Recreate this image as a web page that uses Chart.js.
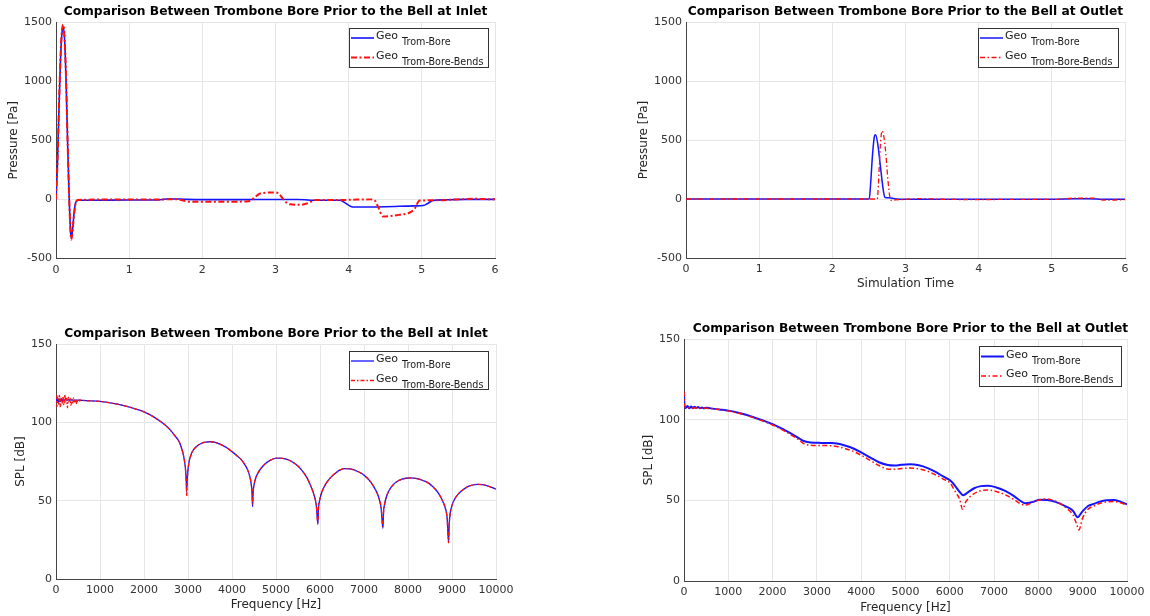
<!DOCTYPE html>
<html>
<head>
<meta charset="utf-8">
<script src="https://cdn.jsdelivr.net/npm/chart.js@4.4.1/dist/chart.umd.min.js"></script>
<style>
  html, body { margin: 0; padding: 0; background: #fff; }
  #wrap { position: relative; width: 1150px; height: 616px; overflow: hidden; background: #fff; }
  canvas { position: absolute; }
</style>
</head>
<body>
<div id="wrap">
  <canvas id="inletTime" width="575" height="300" style="left:0;top:0"></canvas>
  <canvas id="outletTime" width="575" height="300" style="left:575px;top:0"></canvas>
  <canvas id="inletSpl" width="575" height="316" style="left:0;top:300px"></canvas>
  <canvas id="outletSpl" width="575" height="316" style="left:575px;top:300px;filter:blur(0.5px)"></canvas>
</div>
<script>
// ---- Pressure at the inlet (time domain) ----
const inletTimeBore = [0,0.02,0.04,0.06,0.08,0.10,0.12,0.14,0.16,0.18,0.20,0.21,0.23,0.25,0.27,0.30,0.50,1.00,1.40,1.50,1.70,1.80,2.00,2.50,3.00,3.30,3.40,3.50,3.88,3.95,4.03,4.08,4.50,4.90,5.02,5.08,5.15,5.30,5.60,6.00];
const inletPressureBore = [0,300,750,1150,1400,1460,1320,950,450,20,-280,-330,-230,-100,-25,-8,-7,-5,-5,3,3,0,-2,-2,-1,-1,-3,-8,-8,-30,-60,-65,-62,-55,-52,-35,-10,-4,0,0];
const inletTimeBends = [0,0.02,0.04,0.06,0.08,0.10,0.12,0.14,0.16,0.18,0.20,0.21,0.23,0.25,0.27,0.30,0.60,1.00,1.50,1.65,1.75,1.85,2.20,2.60,2.66,2.72,2.80,3.00,3.05,3.12,3.20,3.35,3.45,3.55,3.90,4.05,4.30,4.35,4.40,4.47,4.70,4.82,4.90,4.97,5.20,5.50,5.70,5.85,6.00];
const inletPressureBends = [0,320,780,1180,1420,1478,1330,960,450,10,-290,-340,-240,-110,-30,-5,-2,0,0,2,-12,-20,-20,-18,-10,20,52,58,45,-10,-42,-45,-30,-5,-5,-3,0,-5,-60,-145,-130,-115,-80,-10,-8,0,5,3,0];

// ---- Pressure at the outlet (time domain) ----
const outletTimeBore = [0,1.0,2.0,2.505,2.52,2.55,2.575,2.59,2.62,2.66,2.70,2.72,2.78,2.85,3.0,3.5,4.0,4.5,5.0,5.3,5.5,5.7,6.0];
const outletPressureBore = [0,0,0,0,100,380,530,545,470,260,60,12,10,2,-3,-3,-2,-3,-2,2,3,-2,-3];
const outletTimeBends = [0,1.0,2.0,2.615,2.63,2.655,2.68,2.70,2.73,2.76,2.79,2.82,2.86,2.95,3.2,3.5,4.0,4.5,5.0,5.3,5.45,5.6,5.68,5.8,5.9,6.0];
const outletPressureBends = [0,0,0,0,130,440,578,545,390,160,5,-15,-8,-5,3,-2,-5,-3,-3,7,8,6,-8,-10,-8,-5];

// ---- SPL spectrum at the inlet ----
const inletFreqBore = [0,20,40,60,80,100,120,140,160,180,200,240,300,400,
  600,1000,1200,1500,1800,2000,2200,2400,2500,2600,2700,2800,2870,2910,2940,2958,2970,
  2985,3000,3030,3070,3120,3200,3300,3400,3500,3600,3750,3900,4000,4100,4200,4280,4350,4400,4435,4455,4467,
  4480,4500,4540,4600,4700,4800,4900,5020,5150,5300,5450,5570,5685,5761,5837,5890,5920,5951,
  5965,5990,6030,6080,6150,6250,6370,6460,6560,6680,6800,6950,7060,7150,7230,7300,7350,7390,7430,
  7445,7470,7510,7570,7650,7750,7850,7950,8050,8180,8300,8450,8560,8660,8740,8800,8850,8890,8922,
  8937,8960,9000,9060,9150,9250,9350,9460,9580,9700,9820,9920,10000];
const inletSplBore = [117,113,115.5,112.8,115,113.2,115.2,113.5,114.6,113.8,114.4,114.2,114.3,114.2,
  114,113.4,112.6,111,108.6,106.7,103.8,100,97.8,95,91.5,87.6,82,77,71,64,55.5,
  65,70,75.5,79.5,82.3,84.8,86.5,87.4,87.6,87.3,85.8,83.5,81.3,79,76.5,73.5,70,66,61,55,46.2,
  55,60,64.5,68.2,72,74.6,76.2,77.2,77,75.8,73.2,70,65.5,61.3,56,51,46,34.9,
  45,50,54.5,58,61.5,65,68,69.6,70.5,70.3,69.3,67.3,64.8,62,58.5,54.7,50.5,45,32.3,
  43,48,52.5,56.5,59.8,62.2,63.6,64.3,64.5,64.2,63.3,61.5,59,56,52.5,49,45,39,23.3,
  35,42,47,51,54.5,57,58.8,59.9,60.4,60.2,59.3,58.3,57.3];
const inletFreqBends = [0,20,40,60,80,100,120,140,160,180,200,220,240,260,280,300,320,340,360,380,400,420,440,460,480,500,520,540,560,
  600,1000,1200,1500,1800,2000,2200,2400,2500,2600,2700,2800,2870,2910,2940,2958,2970,
  2985,3000,3030,3070,3120,3200,3300,3400,3500,3600,3750,3900,4000,4100,4200,4280,4350,4400,4435,4455,4467,
  4480,4500,4540,4600,4700,4800,4900,5020,5150,5300,5450,5570,5685,5761,5837,5890,5920,5951,
  5965,5990,6030,6080,6150,6250,6370,6460,6560,6680,6800,6950,7060,7150,7230,7300,7350,7390,7430,
  7445,7470,7510,7570,7650,7750,7850,7950,8050,8180,8300,8450,8560,8660,8740,8800,8850,8890,8922,
  8937,8960,9000,9060,9150,9250,9350,9460,9580,9700,9820,9920,10000];
const inletSplBends = [117.5,110,116.8,111.5,117.2,109.6,115.8,112,116.6,111,117.8,113,115.5,109.3,116,112.5,115.2,110.8,114.8,112.2,115.6,113,114.6,111.6,114.8,113.2,114.6,113.6,114.3,
  114,113.4,112.6,111,108.6,106.7,103.8,100,97.8,95,91.5,87.6,82,77,71,63.5,52.8,
  64,69.8,75.5,79.5,82.3,84.8,86.5,87.4,87.6,87.3,85.8,83.5,81.3,79,76.5,73.5,70,66,61,55.5,47.8,
  55.5,60,64.5,68.2,72,74.6,76.2,77.2,77,75.8,73.2,70,65.5,61.3,56,51,46.5,35.8,
  45.5,50,54.5,58,61.5,65,68,69.6,70.5,70.3,69.3,67.3,64.8,62,58.5,54.7,50.5,45.5,33.5,
  43,48,52.5,56.5,59.8,62.2,63.6,64.3,64.5,64.2,63.3,61.5,59,56,52.5,49,45,38.5,23,
  35,42,47,51,54.5,57,58.8,59.9,60.4,60.2,59.3,58.3,57.3];

// ---- SPL spectrum at the outlet ----
const outletFreqBore = [0,10,40,80,120,160,200,240,280,320,360,400,450,500,600,800,1000,1200,1400,1600,1800,2000,2200,2400,2600,2700,2850,3100,3300,3450,3650,3850,4000,4200,4400,4600,4750,4900,5100,5300,5500,5700,5850,6005,6120,6220,6305,6400,6550,6700,6869,7050,7250,7450,7600,7698,7850,8036,8200,8400,8639,8780,8886,8990,9120,9250,9391,9540,9692,9850,10000];
const outletSplBore = [116,108.5,107.2,108.4,107,108.2,107.1,108,107.2,107.8,107.1,107.6,107.1,107.4,107,106.3,105.6,104.5,103,101.2,99.3,97.2,94.6,91.6,88.4,86.8,85.9,85.6,85.5,85.2,83.8,81.8,79.7,76.6,73.6,71.9,71.6,72,72.3,71.7,70,67.3,64.8,62.4,59,55.3,53.2,54.8,57.5,58.8,59.1,58,55.8,52.6,49.6,48.2,48.8,50.4,50.2,48.9,46,43.5,39.5,43,46.5,47.8,49.2,50,50.2,49.2,47.5];
const outletFreqBends = [0,8,30,200,500,1000,1500,2000,2200,2400,2600,2693,2850,3100,3300,3447,3650,3850,4011,4200,4400,4612,4750,4876,5100,5300,5500,5700,5850,6005,6120,6220,6290,6360,6480,6650,6869,7050,7250,7450,7600,7698,7850,8036,8200,8262,8450,8639,8780,8860,8916,8990,9120,9250,9391,9540,9692,9850,10000];
const outletSplBends = [117.5,111,107.6,107.3,107.1,105.4,101.9,96.7,94,90.8,87.3,85.3,84.2,84,83.9,83.4,82,80,77.8,74.8,71.6,69.3,69.2,69.6,70,69.5,68,65.5,63.2,60.8,55.5,50.8,44.4,49,52.8,55.5,56.4,55.5,53.4,50.5,47.8,47,48.5,50.4,50.9,50.6,48.6,45,41,35.5,31.6,38.5,44.5,46.5,48.2,49,49.2,48.5,47];

// ---- tick values ----
const timeTicks = [0,1,2,3,4,5,6];
const pressureTicks = [-500,0,500,1000,1500];
const freqTicks = [0,1000,2000,3000,4000,5000,6000,7000,8000,9000,10000];
const splTicks = [0,50,100,150];

const FONT = '"DejaVu Sans", "Liberation Sans", sans-serif';
const BLUE = 'rgb(20,20,255)';
const RED = 'rgb(255,15,15)';

function pairs(xs, ys) { return xs.map((x, i) => ({ x: x, y: ys[i] })); }

// Draws the panel title, axis titles and the boxed legend with subscripted labels.
const panelDecor = {
  id: 'panelDecor',
  afterDraw(chart, args, o) {
    const ctx = chart.ctx, a = chart.chartArea;
    ctx.save();
    ctx.textAlign = 'center';
    ctx.textBaseline = 'middle';
    ctx.fillStyle = '#000';
    ctx.font = 'bold 12.25px ' + FONT;
    ctx.fillText(o.title, (a.left + a.right) / 2 + (o.titleDx || 0), a.top + o.titleDy);

    ctx.fillStyle = '#262626';
    ctx.font = '12px ' + FONT;
    ctx.save();
    ctx.translate(a.left + o.yTitleDx, (a.top + a.bottom) / 2);
    ctx.rotate(-Math.PI / 2);
    ctx.fillText(o.yTitle, 0, 0);
    ctx.restore();
    if (o.xTitle) ctx.fillText(o.xTitle, (a.left + a.right) / 2, a.bottom + o.xTitleDy);

    const L = o.legend;
    const bx = Math.round(a.right - L.right - L.w), by = Math.round(a.top + L.top);
    ctx.fillStyle = '#fff';
    ctx.fillRect(bx, by, L.w, L.h);
    ctx.strokeStyle = '#333';
    ctx.lineWidth = 1;
    ctx.strokeRect(bx + 0.5, by + 0.5, L.w, L.h);
    chart.data.datasets.forEach((ds, i) => {
      const ry = by + L.rows[i];
      ctx.strokeStyle = ds.borderColor;
      ctx.lineWidth = ds.borderWidth;
      ctx.setLineDash(ds.borderDash || []);
      ctx.beginPath();
      ctx.moveTo(bx + 2, ry);
      ctx.lineTo(bx + 25, ry);
      ctx.stroke();
      ctx.setLineDash([]);
      ctx.fillStyle = '#1a1a1a';
      ctx.textAlign = 'left';
      ctx.font = '11px ' + FONT;
      ctx.fillText(ds.mainLabel, bx + 27, ry - 1.5);
      ctx.font = '9.6px ' + FONT;
      ctx.fillText(ds.subLabel, bx + 53, ry + 4.5);
    });
    ctx.restore();
  }
};

function axis(min, max, values, fitSize, isX, pad) {
  return {
    type: 'linear',
    min: min, max: max,
    afterBuildTicks(s) { s.ticks = values.map(v => ({ value: v })); },
    afterFit(s) { if (isX) s.height = fitSize; else s.width = fitSize; },
    ticks: {
      autoSkip: false, maxRotation: 0, padding: pad,
      color: '#333',
      font: { family: FONT, size: 11 },
      callback: v => String(v)
    },
    grid: { color: '#e6e6e6', lineWidth: 1, drawTicks: false },
    border: { color: '#444', width: 1 }
  };
}

function panel(id, cfg) {
  new Chart(document.getElementById(id), {
    type: 'line',
    data: {
      datasets: [
        { mainLabel: 'Geo', subLabel: 'Trom-Bore', data: cfg.bore, borderColor: BLUE, borderWidth: cfg.blueW, order: 2 },
        { mainLabel: 'Geo', subLabel: 'Trom-Bore-Bends', data: cfg.bends, borderColor: RED, borderWidth: cfg.redW, borderDash: cfg.dash, order: 1 }
      ]
    },
    options: {
      responsive: false,
      animation: false,
      devicePixelRatio: 1,
      layout: { padding: cfg.padding },
      elements: {
        point: { radius: 0, hoverRadius: 0 },
        line: { cubicInterpolationMode: 'monotone', fill: false }
      },
      scales: {
        x: axis(cfg.xMin, cfg.xMax, cfg.xTicks, cfg.xH, true, 5),
        y: axis(cfg.yMin, cfg.yMax, cfg.yTicks, cfg.yW, false, 4)
      },
      plugins: {
        legend: { display: false },
        tooltip: { enabled: false },
        panelDecor: cfg.decor
      }
    },
    plugins: [panelDecor]
  });
}

const TITLE_IN = 'Comparison Between Trombone Bore Prior to the Bell at Inlet';
const TITLE_OUT = 'Comparison Between Trombone Bore Prior to the Bell at Outlet';

panel('inletTime', {
  bore: pairs(inletTimeBore, inletPressureBore),
  bends: pairs(inletTimeBends, inletPressureBends),
  blueW: 1.6, redW: 2, dash: [6, 2.5, 2, 2.5],
  xMin: 0, xMax: 6, xTicks: timeTicks, yMin: -500, yMax: 1500, yTicks: pressureTicks,
  padding: { left: 0, right: 80, top: 22, bottom: 0 }, yW: 56, xH: 41.5,
  decor: { title: TITLE_IN, titleDy: -10, yTitle: 'Pressure [Pa]', yTitleDx: -42,
    legend: { right: 7, top: 6, w: 139, h: 39, rows: [10, 29.5] } }
});

panel('outletTime', {
  bore: pairs(outletTimeBore, outletPressureBore),
  bends: pairs(outletTimeBends, outletPressureBends),
  blueW: 1.5, redW: 1.3, dash: [5, 2.5, 1.5, 2.5],
  xMin: 0, xMax: 6, xTicks: timeTicks, yMin: -500, yMax: 1500, yTicks: pressureTicks,
  padding: { left: 55, right: 25, top: 22, bottom: 0 }, yW: 56, xH: 42,
  decor: { title: TITLE_OUT, titleDy: -10, yTitle: 'Pressure [Pa]', yTitleDx: -42,
    xTitle: 'Simulation Time', xTitleDy: 25.5,
    legend: { right: 7, top: 6, w: 140, h: 39, rows: [10, 29.5] } }
});

panel('inletSpl', {
  bore: pairs(inletFreqBore, inletSplBore),
  bends: pairs(inletFreqBends, inletSplBends),
  blueW: 1.3, redW: 1.3, dash: [4, 2, 1.5, 2],
  xMin: 0, xMax: 10000, xTicks: freqTicks, yMin: 0, yMax: 150, yTicks: splTicks,
  padding: { left: 0, right: 79, top: 44, bottom: 0 }, yW: 56, xH: 37,
  decor: { title: TITLE_IN, titleDy: -10, yTitle: 'SPL [dB]', yTitleDx: -35,
    xTitle: 'Frequency [Hz]', xTitleDy: 25.7,
    legend: { right: 8, top: 7, w: 139, h: 38, rows: [10, 29.5] } }
});

panel('outletSpl', {
  bore: pairs(outletFreqBore, outletSplBore),
  bends: pairs(outletFreqBends, outletSplBends),
  blueW: 2, redW: 1.5, dash: [5, 2.5, 1.5, 2.5],
  xMin: 0, xMax: 10000, xTicks: freqTicks, yMin: 0, yMax: 150, yTicks: splTicks,
  padding: { left: 53, right: 23, top: 39, bottom: 0 }, yW: 56, xH: 35,
  decor: { title: TITLE_OUT, titleDy: -10.5, titleDx: 5, yTitle: 'SPL [dB]', yTitleDx: -35,
    xTitle: 'Frequency [Hz]', xTitleDy: 26.5,
    legend: { right: 6, top: 7, w: 142, h: 40, rows: [10.5, 30] } }
});
</script>
</body>
</html>
